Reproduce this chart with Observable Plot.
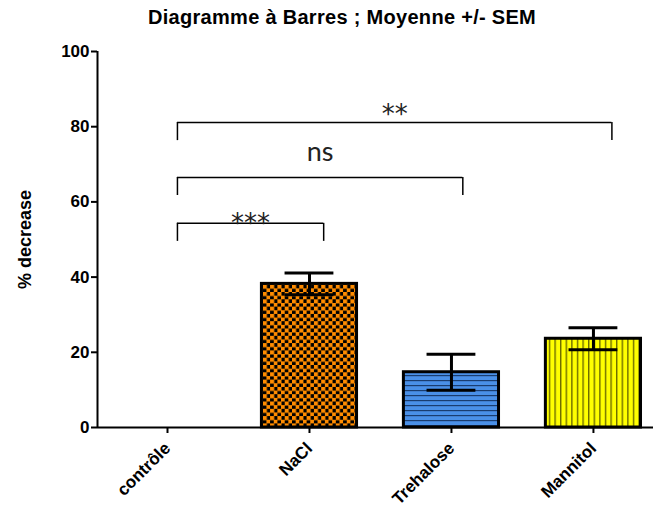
<!DOCTYPE html>
<html><head><meta charset="utf-8">
<script src="https://cdn.jsdelivr.net/npm/d3@7"></script>
<script src="https://cdn.jsdelivr.net/npm/@observablehq/plot@0.6"></script>
<style>
body{margin:0;background:#fff;}
#wrap{position:relative;width:653px;height:509px;}
#title{position:absolute;top:6px;left:0;width:684px;text-align:center;font:bold 20px "Liberation Sans",Arial,sans-serif;letter-spacing:0.3px;color:#000;z-index:2;}
</style></head><body><div id="wrap"><div id="title">Diagramme à Barres ; Moyenne +/- SEM</div></div>
<script>
// ---- data ----
const categories = ["contrôle", "NaCl", "Trehalose", "Mannitol"];
const means = [0, 38.2, 14.7, 23.6];
const sems = [0, 2.9, 4.8, 2.9];
const fills = ["none", "url(#checker)", "url(#hlines)", "url(#vlines)"];
const yTicks = [0, 20, 40, 60, 80, 100];
// significance brackets (x in category units, y in % decrease)
const bracketX1 = [0.07, 0.07, 0.07];
const bracketX2 = [1.10, 2.08, 3.13];
const bracketY = [54.3, 66.5, 81.1];
const bracketLabels = ["***", "ns", "**"];
const labelY = [55.9, 72.3, 84.8];

// ---- layout constants ----
const xDomain = [-0.493, 3.423];
const barHalf = 0.335, capHalf = 0.172, leg = 4.8;
const font = '"Liberation Sans", Arial, sans-serif';

const rows = categories.map((c, i) => ({i, c, mean: means[i], sem: sems[i], fill: fills[i]}));
const bars = rows.filter(d => d.mean > 0);
const br = bracketLabels.map((l, k) => ({x1: bracketX1[k], x2: bracketX2[k], y: bracketY[k], label: l, ly: labelY[k]}));
const legs = br.flatMap(b => [{x: b.x1, y: b.y}, {x: b.x2, y: b.y}]);
const stars = br.filter(b => b.label.startsWith("*"));
const others = br.filter(b => !b.label.startsWith("*"));

const marks = [];
for (const d of bars) {
  marks.push(Plot.rectY([d], {x1: r => r.i - barHalf, x2: r => r.i + barHalf, y1: 0, y2: "mean", fill: d.fill, stroke: "black", strokeWidth: 3}));
}
marks.push(
  Plot.ruleX(bars, {x: "i", y1: d => d.mean - d.sem, y2: d => d.mean + d.sem, stroke: "black", strokeWidth: 3}),
  Plot.ruleY(bars, {y: d => d.mean + d.sem, x1: d => d.i - capHalf, x2: d => d.i + capHalf, stroke: "black", strokeWidth: 3}),
  Plot.ruleY(bars, {y: d => d.mean - d.sem, x1: d => d.i - capHalf, x2: d => d.i + capHalf, stroke: "black", strokeWidth: 3}),
  Plot.ruleY([0], {stroke: "black", strokeWidth: 2}),
  Plot.ruleX([xDomain[0]], {y1: 0, y2: 100, stroke: "black", strokeWidth: 2}),
  Plot.ruleY(br, {y: "y", x1: "x1", x2: "x2", stroke: "black", strokeWidth: 1.5}),
  Plot.ruleX(legs, {x: "x", y1: d => d.y, y2: d => d.y - leg, stroke: "black", strokeWidth: 1.5}),
  Plot.text(stars, {x: d => (d.x1 + d.x2) / 2, y: "ly", text: "label", fontSize: 26, dy: 6, fontFamily: "'DejaVu Sans', sans-serif", fill: "#222", lineAnchor: "middle"}),
  Plot.text(others, {x: d => (d.x1 + d.x2) / 2, y: "ly", text: "label", fontSize: 27, dy: -3, fontFamily: "Lato, 'Open Sans', sans-serif", fill: "#222", lineAnchor: "middle"}),
  Plot.axisY({ticks: yTicks, tickSize: 6, tickPadding: 2, fontSize: 17, fontWeight: "bold", fontFamily: font, label: null, strokeWidth: 2}),
  Plot.axisX({ticks: [0, 1, 2, 3], tickFormat: i => categories[i], tickRotate: -45, tickSize: 6, tickPadding: 12, fontSize: 17, fontWeight: "bold", fontFamily: font, label: null, strokeWidth: 2}),
  Plot.text(["% decrease"], {frameAnchor: "left", rotate: -90, textAnchor: "middle", dx: -72, fontSize: 18, fontWeight: "bold", fontFamily: font, fill: "black"})
);

const chart = Plot.plot({
  width: 653, height: 509,
  marginLeft: 97, marginRight: 0, marginTop: 51, marginBottom: 82,
  style: {background: "white", color: "black", overflow: "visible"},
  x: {type: "linear", domain: xDomain, range: [97, 653]},
  y: {domain: [0, 100]},
  marks
});

const ns = "http://www.w3.org/2000/svg";
const defs = document.createElementNS(ns, "defs");
defs.innerHTML = `
<pattern id="checker" patternUnits="userSpaceOnUse" width="7.3" height="7.3">
  <rect width="7.3" height="7.3" fill="#000"/>
  <rect x="0" y="0" width="4.1" height="4.1" fill="#ff8c00"/>
  <rect x="3.65" y="3.65" width="4.1" height="4.1" fill="#ff8c00"/>
</pattern>
<pattern id="hlines" patternUnits="userSpaceOnUse" width="10" height="5">
  <rect width="10" height="5" fill="#4a90e8"/>
  <rect y="0" width="10" height="1.2" fill="#1a3d70"/>
</pattern>
<pattern id="vlines" patternUnits="userSpaceOnUse" width="5.6" height="10">
  <rect width="5.6" height="10" fill="#ffff00"/>
  <rect x="0" width="1.4" height="10" fill="#6b6b00"/>
</pattern>`;
chart.insertBefore(defs, chart.firstChild);
document.getElementById("wrap").appendChild(chart);
</script></body></html>
